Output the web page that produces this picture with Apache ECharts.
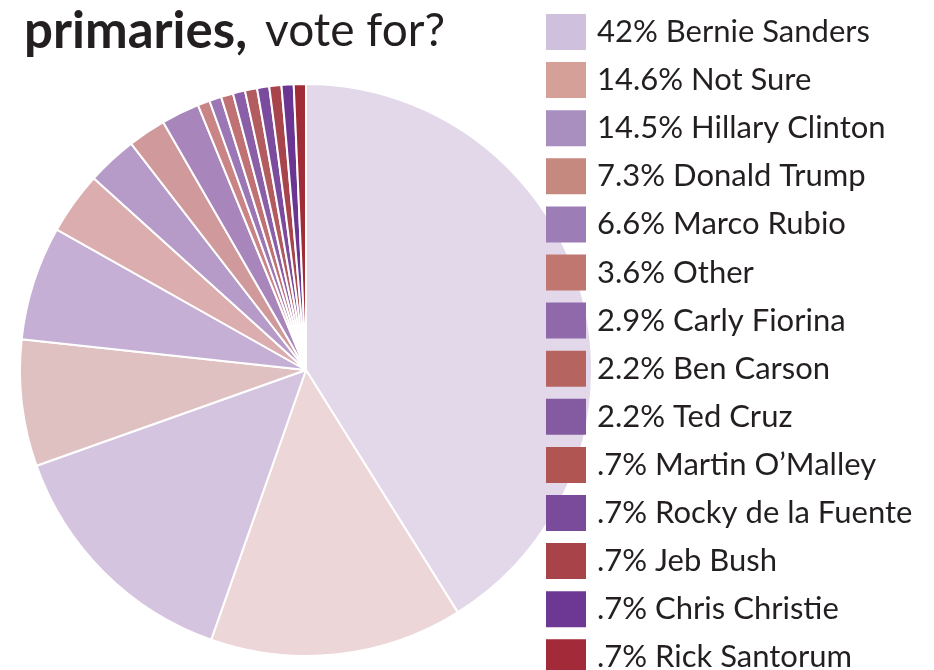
<!DOCTYPE html>
<html>
<head>
<meta charset="utf-8">
<script src="https://cdn.jsdelivr.net/npm/echarts@6/dist/echarts.min.js"></script>
<style>
  html, body { margin: 0; padding: 0; background: #fff; }
  #chart { width: 934px; height: 670px; }
</style>
</head>
<body>
<div id="chart"></div>
<script>
  // candidates shown in the legend (in order)
  var names = ['Bernie Sanders', 'Not Sure', 'Hillary Clinton', 'Donald Trump', 'Marco Rubio',
    'Other', 'Carly Fiorina', 'Ben Carson', 'Ted Cruz', 'Martin O\u2019Malley',
    'Rocky de la Fuente', 'Jeb Bush', 'Chris Christie', 'Rick Santorum'];
  var values = [42, 14.6, 14.5, 7.3, 6.6, 3.6, 2.9, 2.2, 2.2, 0.7, 0.7, 0.7, 0.7, 0.7];
  var pctLabels = ['42%', '14.6%', '14.5%', '7.3%', '6.6%', '3.6%', '2.9%', '2.2%', '2.2%',
    '.7%', '.7%', '.7%', '.7%', '.7%'];
  // slices whose legend rows fall below the picture
  var hiddenNames = ['more 1', 'more 2', 'more 3', 'more 4'];
  var hiddenValues = [0.7, 0.7, 0.7, 0.7];

  var legendColors = ['#cfc0dd', '#d4a097', '#a98ec0', '#c6897f', '#9d7db6', '#bf776f', '#9069aa',
    '#b6645f', '#845aa0', '#b05552', '#7a4b9b', '#a8434a', '#6c3893', '#a32a38'];
  var sliceColors = ['#e2d8ea', '#ecd6d8', '#d5c4df', '#e0c1c2', '#c6afd5', '#dbadae', '#b69bc9',
    '#d09a9c', '#a886bc', '#c98486', '#9b78b5', '#bf7173', '#8a5fa8', '#b35c60', '#7b4c9e',
    '#a8444c', '#6a3692', '#a02c37'];

  var font = 'Lato';
  var allNames = names.concat(hiddenNames);
  var allValues = values.concat(hiddenValues);

  var pieData = allNames.map(function (n, i) {
    return { name: n, value: allValues[i], itemStyle: { color: sliceColors[i] } };
  });
  var legendData = names.map(function (n, i) {
    return { name: n, itemStyle: { color: legendColors[i], borderWidth: 0 } };
  });

  var option = {
    animation: false,
    title: {
      text: '{b|primaries,}{r|vote for?}',
      left: 19,
      top: 1,
      textStyle: {
        rich: {
          b: { fontFamily: font, fontWeight: 'bold', fontSize: 51, color: '#231f20' },
          r: { fontFamily: font, fontWeight: 'normal', fontSize: 46, color: '#231f20', padding: [0, 0, 0, 18] }
        }
      }
    },
    legend: {
      orient: 'vertical',
      left: 546,
      top: 14,
      padding: 0,
      height: 1000,
      icon: 'rect',
      itemWidth: 40,
      itemHeight: 36,
      itemGap: 12.1,
      itemStyle: { borderWidth: 0 },
      data: legendData,
      formatter: function (name) {
        return pctLabels[names.indexOf(name)] + ' ' + name;
      },
      textStyle: {
        fontFamily: font,
        fontSize: 31,
        lineHeight: 36,
        color: '#231f20',
        padding: [0, 0, 0, 6]
      }
    },
    series: [
      {
        type: 'pie',
        center: [306, 370],
        radius: 286,
        startAngle: 90,
        clockwise: true,
        label: { show: false },
        labelLine: { show: false },
        itemStyle: { borderColor: '#fff', borderWidth: 2 },
        emphasis: { disabled: true },
        data: pieData
      }
    ]
  };

  var myChart = echarts.init(document.getElementById('chart'));
  myChart.setOption(option);
</script>
</body>
</html>
